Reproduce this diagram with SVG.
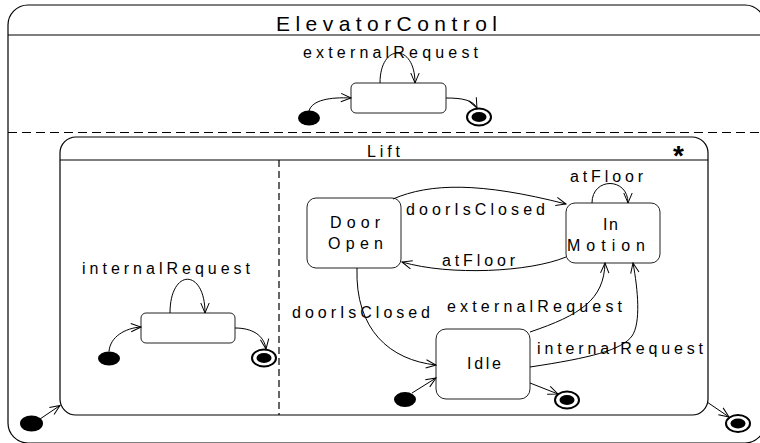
<svg xmlns="http://www.w3.org/2000/svg" width="760" height="443" viewBox="0 0 760 443">
<style>
text{font-family:"Liberation Sans",Arial,sans-serif;font-size:16px;fill:#000}
.title{font-size:21px}
.star{font-size:28px;font-weight:bold}
.frame{fill:none;stroke:#000;stroke-width:1.2}
.state{fill:#fff;stroke:#222;stroke-width:1}
.sep{stroke:#000;stroke-width:1.2;fill:none}
.dash{stroke:#000;stroke-width:1.2;stroke-dasharray:9,5;fill:none}
.vdash{stroke:#000;stroke-width:1.2;stroke-dasharray:7,4;fill:none}
.init{fill:#000}
.fin-o{fill:#fff;stroke:#000;stroke-width:2}
.fin-i{fill:#000}
#connectors path{fill:none;stroke:#000;stroke-width:1;marker-end:url(#arr)}
</style>
<defs>
<marker id="arr" markerUnits="userSpaceOnUse" viewBox="0 0 10 10" refX="10" refY="5" markerWidth="10" markerHeight="10" orient="auto" overflow="visible">
<path d="M0,0.8 L10,5 L0,9.2" fill="none" stroke="#000" stroke-width="1"/>
</marker>
</defs>

<g id="ElevatorControl">
<rect class="frame" x="8" y="5" width="757" height="438" rx="20" ry="20"/>
<line class="sep" x1="8" y1="35" x2="765" y2="35"/>
<line class="dash" x1="8" y1="132.5" x2="765" y2="132.5"/>
<text class="title" x="276" y="31" textLength="221" lengthAdjust="spacing">ElevatorControl</text>
</g>

<g id="top-state">
<rect class="state" x="351" y="83" width="95" height="30" rx="5"/>
</g>
<g id="top-initial"><ellipse class="init" cx="309" cy="118" rx="11" ry="7.5"/></g>
<g id="top-final"><ellipse class="fin-o" cx="479" cy="117" rx="12" ry="8.5"/><ellipse class="fin-i" cx="479" cy="117" rx="7.5" ry="5"/></g>

<g id="Lift">
<rect class="frame" x="60" y="137" width="648" height="278" rx="16" ry="16"/>
<line class="sep" x1="60" y1="160" x2="708" y2="160"/>
<line class="vdash" x1="279" y1="160" x2="279" y2="415"/>
<text x="367" y="157" textLength="33" lengthAdjust="spacing">Lift</text>
<text class="star" x="678.5" y="165" text-anchor="middle">*</text>
</g>

<g id="left-state"><rect class="state" x="141" y="313" width="94" height="30" rx="5"/></g>
<g id="left-initial"><ellipse class="init" cx="109" cy="358.5" rx="11" ry="7"/></g>
<g id="left-final"><ellipse class="fin-o" cx="264" cy="358" rx="12" ry="8.5"/><ellipse class="fin-i" cx="264" cy="358" rx="7.5" ry="5"/></g>

<g id="outer-initial"><ellipse class="init" cx="31.5" cy="423.5" rx="11.5" ry="8"/></g>
<g id="outer-final"><ellipse class="fin-o" cx="738" cy="423.5" rx="12" ry="8.5"/><ellipse class="fin-i" cx="738" cy="423.5" rx="7.5" ry="5"/></g>

<g id="DoorOpen">
<rect class="state" x="307" y="198" width="94" height="70" rx="9"/>
<text x="330" y="228" textLength="50" lengthAdjust="spacing">Door</text>
<text x="328" y="249" textLength="55" lengthAdjust="spacing">Open</text>
</g>
<g id="InMotion">
<rect class="state" x="566" y="203" width="94" height="60" rx="9"/>
<text x="603" y="230" textLength="15" lengthAdjust="spacing">In</text>
<text x="567" y="251" textLength="78" lengthAdjust="spacing">Motion</text>
</g>
<g id="Idle">
<rect class="state" x="436" y="329" width="94" height="70" rx="10"/>
<text x="467" y="369" textLength="34" lengthAdjust="spacing">Idle</text>
</g>
<g id="idle-initial"><ellipse class="init" cx="405" cy="399.5" rx="11" ry="7.5"/></g>
<g id="idle-final"><ellipse class="fin-o" cx="567" cy="400" rx="12" ry="8.5"/><ellipse class="fin-i" cx="567" cy="400" rx="7.5" ry="5"/></g>

<g id="connectors">
<path d="M380,83 C380,43 415,43 415,83"/>
<path d="M309,111 C312,100 330,97 351,98"/>
<path d="M446,98 C462,98 473,100 477,108"/>
<path d="M170,313 C170,268 205,268 205,313"/>
<path d="M109,351.5 C110,337 125,328 141,327"/>
<path d="M235,328 C252,328 264,335 266,349"/>
<path d="M40,419 L60,405.5"/>
<path d="M707,402 L729,417"/>
<path d="M393,199 C430,183 480,182 566,204"/>
<path d="M566,257 C530,272 450,276 402,262"/>
<path d="M592,203 C592,177 628,177 628,203"/>
<path d="M357,268 C355,330 390,360 436,365"/>
<path d="M530,332 C580,315 604,300 605,263"/>
<path d="M530,367 C590,358 622,350 632,336 C641,323 638,290 633,263"/>
<path d="M412,393 L436,378"/>
<path d="M530,383 L558,394"/>
<text x="303" y="58" textLength="175" lengthAdjust="spacing">externalRequest</text>
<text x="82" y="274" textLength="168" lengthAdjust="spacing">internalRequest</text>
<text x="570" y="182" textLength="73" lengthAdjust="spacing">atFloor</text>
<text x="406" y="215" textLength="139" lengthAdjust="spacing">doorIsClosed</text>
<text x="442" y="266" textLength="73" lengthAdjust="spacing">atFloor</text>
<text x="292" y="318" textLength="138" lengthAdjust="spacing">doorIsClosed</text>
<text x="447" y="312" textLength="175" lengthAdjust="spacing">externalRequest</text>
<text x="537" y="354" textLength="166" lengthAdjust="spacing">internalRequest</text>
</g>
</svg>
